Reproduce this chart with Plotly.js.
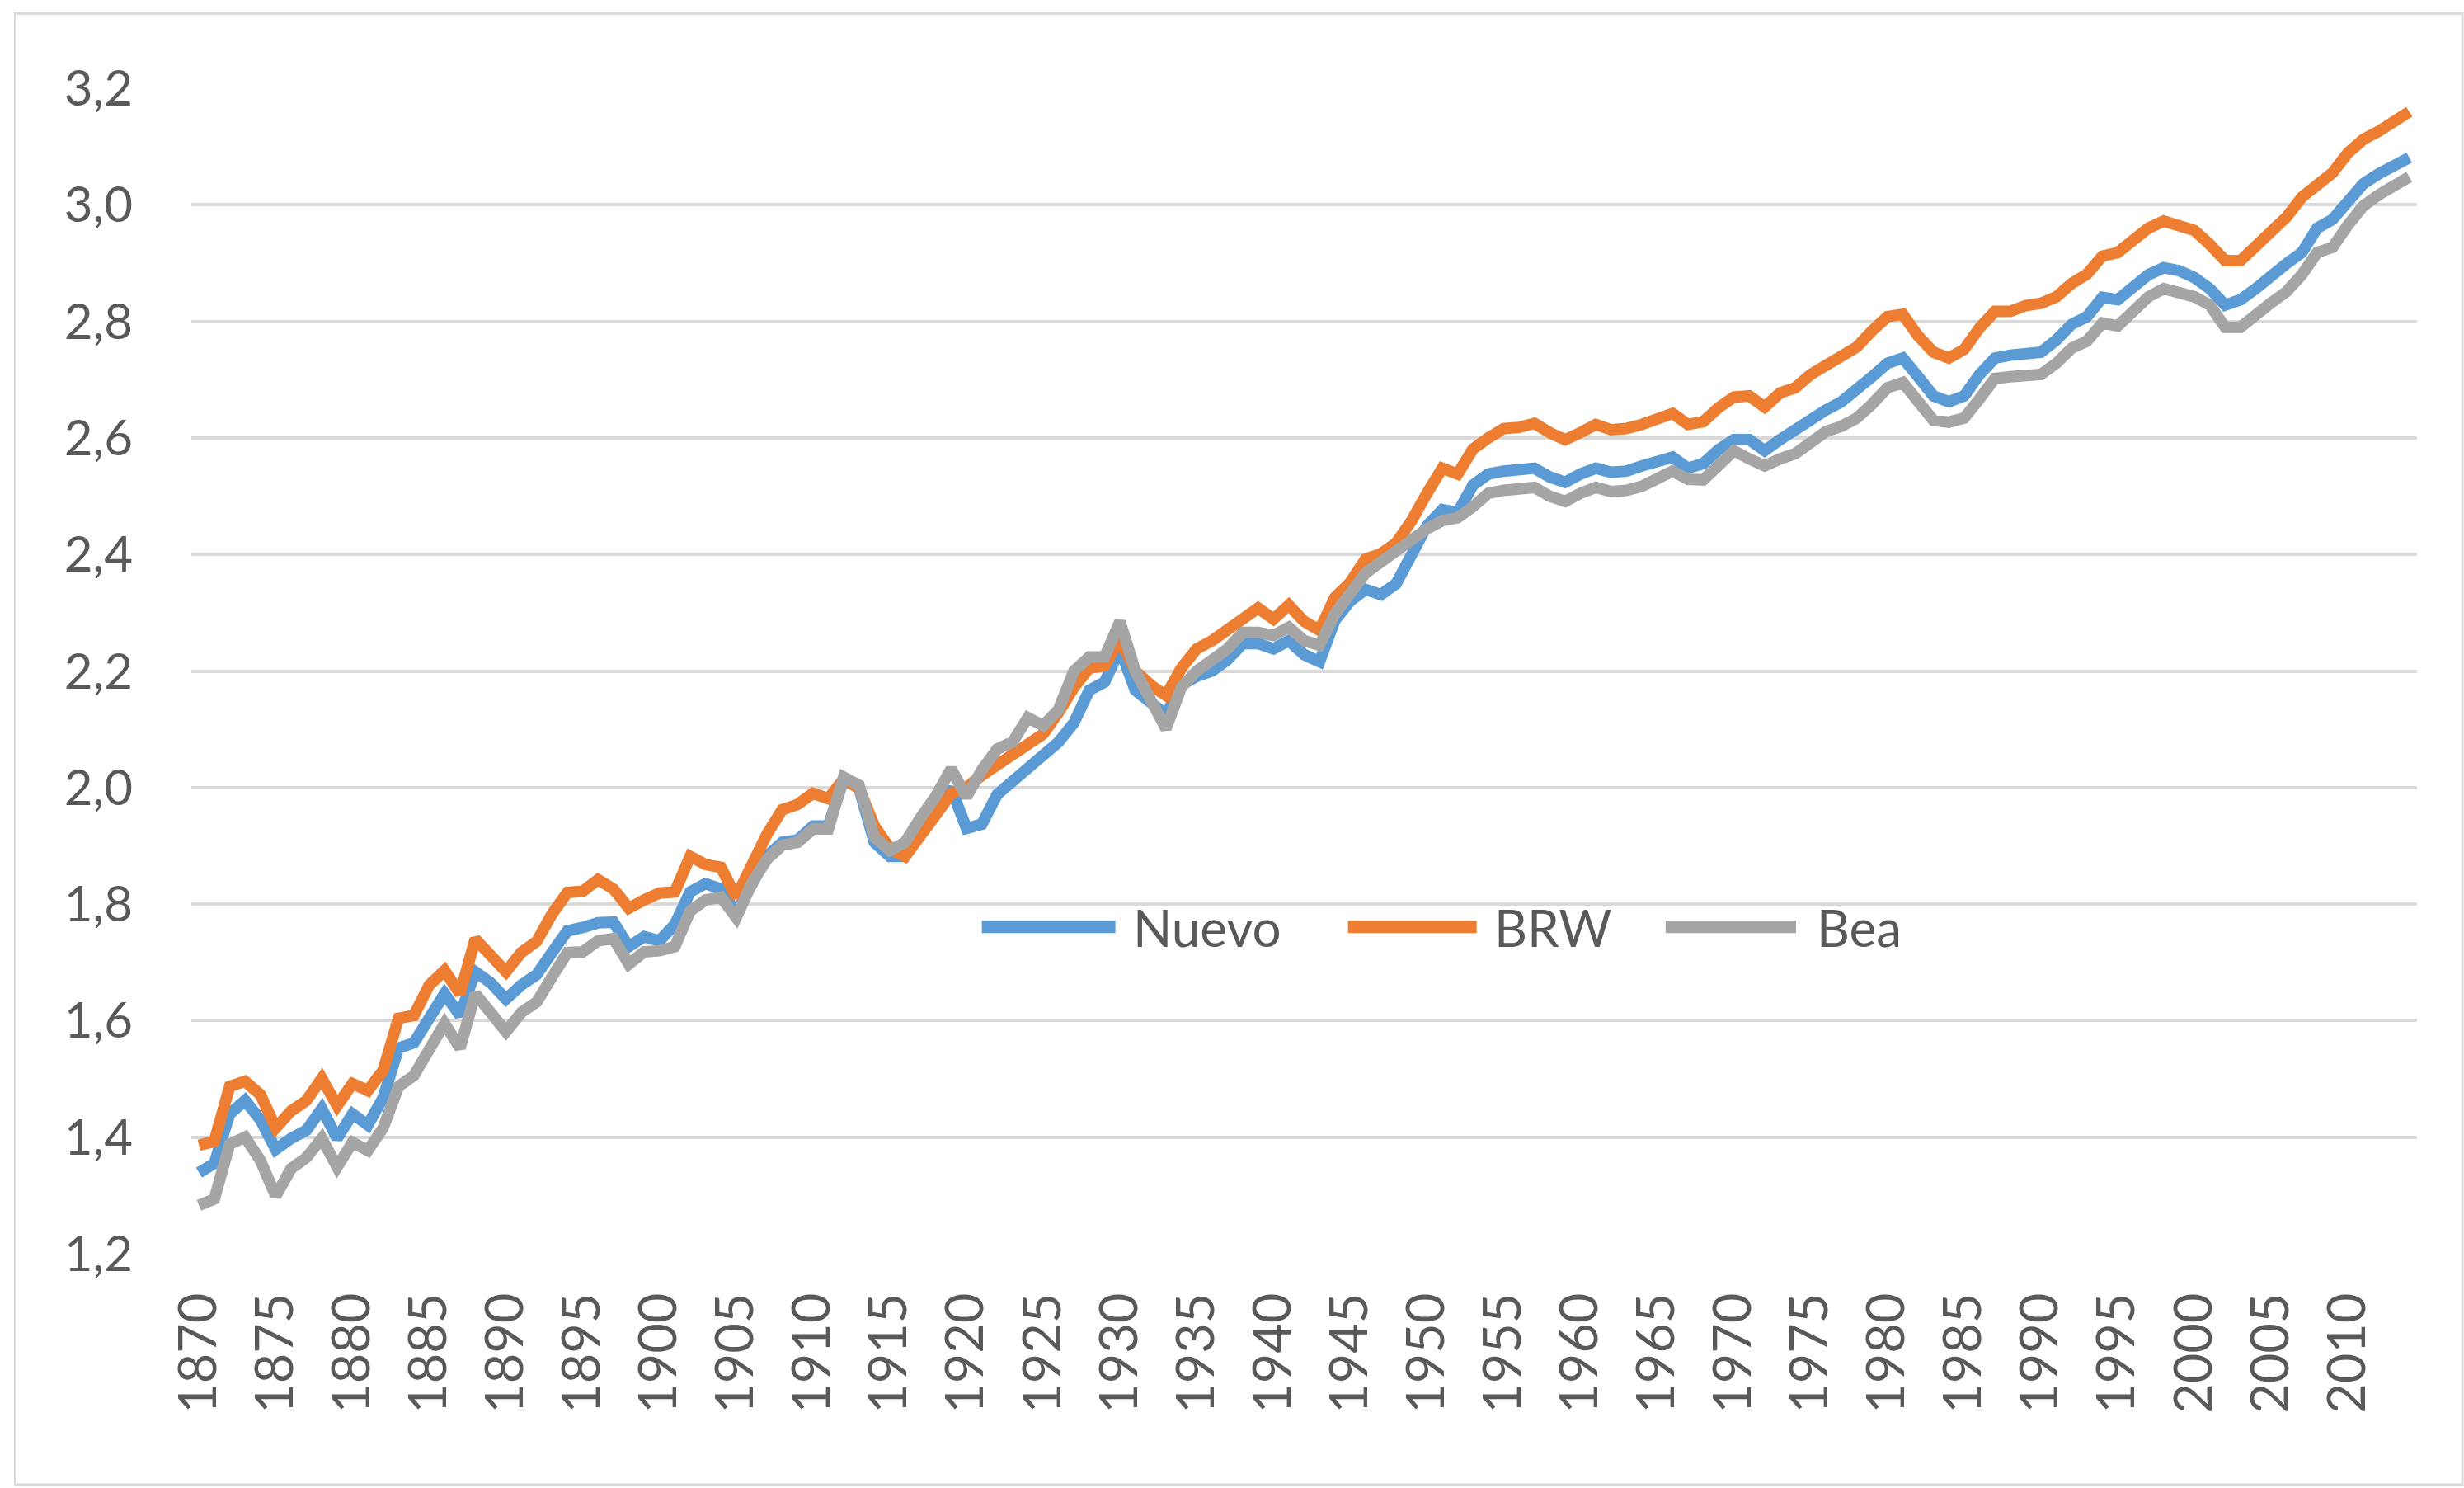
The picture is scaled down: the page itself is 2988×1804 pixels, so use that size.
<!DOCTYPE html>
<html>
<head>
<meta charset="utf-8">
<script src="https://cdn.plot.ly/plotly-3.0.1.min.js"></script>
<style>
  html, body { margin: 0; padding: 0; background: #ffffff; }
  #chart { width: 2988px; height: 1804px; }
</style>
</head>
<body>
<div id="chart"></div>
<script>
// ---- data ----
const years = [];
for (let y = 1870; y <= 2014; y++) years.push(String(y));

const seriesNames = ["Nuevo", "BRW", "Bea"];

const nuevo = [
  1.339, 1.355, 1.440, 1.463, 1.430, 1.379, 1.398, 1.412, 1.449, 1.398,
  1.440, 1.421, 1.468, 1.553, 1.562, 1.609, 1.646, 1.609, 1.684, 1.665,
  1.637, 1.661, 1.679, 1.717, 1.754, 1.760, 1.768, 1.769, 1.727, 1.744,
  1.737, 1.765, 1.821, 1.835, 1.826, 1.784, 1.835, 1.882, 1.906, 1.910,
  1.934, 1.934, 2.014, 1.999, 1.906, 1.882, 1.882, 1.924, 1.962, 1.999,
  1.930, 1.937, 1.988, 2.012, 2.035, 2.059, 2.078, 2.111, 2.167, 2.181,
  2.238, 2.167, 2.144, 2.125, 2.176, 2.191, 2.200, 2.219, 2.247, 2.247,
  2.238, 2.252, 2.228, 2.216, 2.287, 2.320, 2.340, 2.331, 2.350, 2.401,
  2.449, 2.477, 2.472, 2.519, 2.538, 2.543, 2.548, 2.548, 2.533, 2.524,
  2.538, 2.548, 2.541, 2.543, 2.552, 2.562, 2.567, 2.548, 2.556, 2.580,
  2.597, 2.597, 2.578, 2.597, 2.616, 2.634, 2.648, 2.662, 2.681, 2.705,
  2.728, 2.737, 2.705, 2.672, 2.662, 2.672, 2.709, 2.737, 2.742, 2.747,
  2.747, 2.768, 2.795, 2.808, 2.841, 2.837, 2.861, 2.880, 2.892, 2.887,
  2.875, 2.856, 2.828, 2.837, 2.856, 2.880, 2.899, 2.918, 2.960, 2.975,
  3.008, 3.036, 3.053, 3.067, 3.081
];

const brw = [
  1.386, 1.393, 1.487, 1.496, 1.473, 1.416, 1.445, 1.463, 1.501, 1.454,
  1.492, 1.480, 1.515, 1.604, 1.609, 1.661, 1.686, 1.646, 1.740, 1.712,
  1.684, 1.717, 1.736, 1.783, 1.820, 1.822, 1.842, 1.826, 1.793, 1.807,
  1.819, 1.821, 1.882, 1.868, 1.863, 1.812, 1.868, 1.920, 1.962, 1.971,
  1.990, 1.981, 2.014, 1.999, 1.934, 1.896, 1.882, 1.915, 1.953, 1.990,
  2.000, 2.021, 2.040, 2.059, 2.078, 2.092, 2.129, 2.172, 2.205, 2.209,
  2.256, 2.200, 2.176, 2.158, 2.205, 2.238, 2.252, 2.271, 2.294, 2.308,
  2.289, 2.313, 2.285, 2.270, 2.326, 2.352, 2.392, 2.401, 2.420, 2.458,
  2.505, 2.548, 2.538, 2.581, 2.600, 2.616, 2.618, 2.625, 2.609, 2.597,
  2.609, 2.623, 2.614, 2.616, 2.623, 2.633, 2.642, 2.623, 2.628, 2.652,
  2.670, 2.672, 2.653, 2.677, 2.686, 2.709, 2.723, 2.737, 2.756, 2.784,
  2.808, 2.812, 2.775, 2.747, 2.737, 2.752, 2.789, 2.817, 2.817, 2.827,
  2.831, 2.842, 2.865, 2.881, 2.912, 2.918, 2.937, 2.960, 2.972, 2.965,
  2.956, 2.932, 2.904, 2.904, 2.927, 2.956, 2.979, 3.013, 3.036, 3.055,
  3.089, 3.112, 3.126, 3.143, 3.160
];

const bea = [
  1.283, 1.294, 1.388, 1.400, 1.360, 1.299, 1.346, 1.365, 1.398, 1.349,
  1.391, 1.377, 1.416, 1.487, 1.506, 1.553, 1.595, 1.553, 1.646, 1.614,
  1.581, 1.614, 1.632, 1.675, 1.717, 1.718, 1.737, 1.741, 1.697, 1.718,
  1.720, 1.727, 1.788, 1.807, 1.812, 1.777, 1.835, 1.877, 1.901, 1.906,
  1.929, 1.929, 2.018, 2.004, 1.915, 1.892, 1.906, 1.948, 1.985, 2.032,
  1.984, 2.030, 2.066, 2.078, 2.120, 2.106, 2.134, 2.200, 2.224, 2.224,
  2.285, 2.200, 2.153, 2.101, 2.172, 2.200, 2.219, 2.238, 2.266, 2.266,
  2.261, 2.275, 2.252, 2.244, 2.298, 2.330, 2.368, 2.387, 2.406, 2.430,
  2.444, 2.458, 2.463, 2.482, 2.505, 2.510, 2.515, 2.515, 2.500, 2.491,
  2.505, 2.515, 2.508, 2.510, 2.517, 2.529, 2.543, 2.529, 2.528, 2.553,
  2.578, 2.564, 2.552, 2.564, 2.573, 2.592, 2.611, 2.620, 2.634, 2.658,
  2.686, 2.695, 2.662, 2.630, 2.627, 2.634, 2.667, 2.702, 2.705, 2.705,
  2.709, 2.728, 2.754, 2.766, 2.797, 2.792, 2.818, 2.842, 2.856, 2.851,
  2.842, 2.828, 2.790, 2.790, 2.813, 2.832, 2.851, 2.880, 2.918, 2.927,
  2.965, 2.998, 3.017, 3.032, 3.048
];

const xTickLabels = years.filter(y => Number(y) % 5 === 0);
const yTickVals = [1.2, 1.4, 1.6, 1.8, 2.0, 2.2, 2.4, 2.6, 2.8, 3.0, 3.2];

// ---- styling ----
const colors = ["#5B9BD5", "#ED7D31", "#A5A5A5"];
const allSeries = [nuevo, brw, bea];
const FONT = "Lato, 'Liberation Sans', sans-serif";
const TXT = "#595959";

const traces = allSeries.map((vals, i) => ({
  type: "scatter",
  mode: "lines",
  name: seriesNames[i],
  x: years,
  y: vals,
  line: { color: colors[i], width: 14, shape: "linear" },
  showlegend: false,
  hoverinfo: "x+y+name"
}));

// manual legend (long line samples as in the original)
const legendY = 0.2804;
const legendPos = [
  { x0: 0.3552, x1: 0.4152, tx: 0.4223 },
  { x0: 0.5197, x1: 0.5775, tx: 0.5846 },
  { x0: 0.6624, x1: 0.7210, tx: 0.7295 }
];
const shapes = [];
const annotations = [];
legendPos.forEach((p, i) => {
  shapes.push({
    type: "line", xref: "paper", yref: "paper",
    x0: p.x0, x1: p.x1, y0: legendY, y1: legendY,
    line: { color: colors[i], width: 15 }
  });
  annotations.push({
    xref: "paper", yref: "paper", x: p.tx, y: legendY,
    xanchor: "left", yanchor: "middle", showarrow: false,
    text: seriesNames[i],
    font: { family: FONT, size: 62, color: TXT }
  });
});
// chart frame
shapes.push({
  type: "rect", xref: "paper", yref: "paper",
  x0: -0.0791, x1: 1.0204, y0: -0.1982, y1: 1.0641,
  line: { color: "#D9D9D9", width: 3 }, fillcolor: "rgba(0,0,0,0)", layer: "below"
});

const layout = {
  width: 2988,
  height: 1804,
  margin: { l: 232, r: 57, t: 107, b: 284, pad: 0 },
  paper_bgcolor: "#ffffff",
  plot_bgcolor: "#ffffff",
  separators: ",.",
  font: { family: FONT, color: TXT, size: 60 },
  showlegend: false,
  xaxis: {
    type: "category",
    categoryorder: "array",
    categoryarray: years,
    tickmode: "array",
    tickvals: xTickLabels,
    ticktext: xTickLabels,
    tickangle: -90,
    tickfont: { family: FONT, size: 63, color: TXT },
    ticks: "",
    showgrid: false,
    showline: false,
    zeroline: false,
    ticklabelstandoff: 34,
    range: [-0.5, years.length - 0.5]
  },
  yaxis: {
    range: [1.2, 3.2],
    tickmode: "array",
    tickvals: yTickVals,
    tickformat: ".1f",
    tickfont: { family: FONT, size: 60, color: TXT },
    ticks: "",
    showgrid: true,
    gridcolor: "#D9D9D9",
    gridwidth: 4,
    showline: false,
    zeroline: false,
    ticklabelstandoff: 70
  },
  shapes: shapes,
  annotations: annotations
};

Plotly.newPlot("chart", traces, layout, { displayModeBar: false, staticPlot: true });
</script>
</body>
</html>
